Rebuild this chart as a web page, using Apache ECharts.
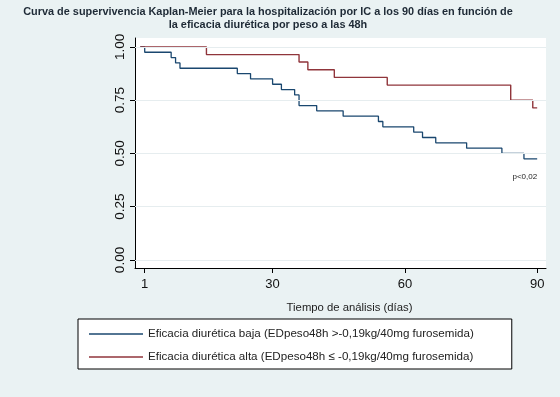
<!DOCTYPE html>
<html>
<head>
<meta charset="utf-8">
<script src="https://cdn.jsdelivr.net/npm/echarts@6/dist/echarts.min.js"></script>
<style>
  html, body { margin: 0; padding: 0; background: #eaf2f3; }
  #chart { width: 560px; height: 397px; }
</style>
</head>
<body>
<div id="chart"></div>
<script>
// Kaplan-Meier: días y supervivencia tras cada evento
const bajaDays = [0, 1, 7, 8, 9, 22, 25, 30, 32, 35, 36, 40, 46, 54, 55, 62, 64, 67, 74, 82, 87, 90];
const bajaSurv = [1, 0.975, 0.95, 0.925, 0.9, 0.875, 0.85, 0.825, 0.8, 0.775, 0.725, 0.7, 0.675, 0.65, 0.625, 0.6, 0.575, 0.55, 0.525, 0.5, 0.475, 0.475];
const altaDays = [0, 15, 36, 38, 44, 56, 84, 89, 90];
const altaSurv = [1, 0.964, 0.929, 0.893, 0.857, 0.821, 0.75, 0.714, 0.714];
const xTicks = [1, 30, 60, 90];
const yTicks = [0, 0.25, 0.5, 0.75, 1];
const seriesNames = [
  "Eficacia diurética baja (EDpeso48h >-0,19kg/40mg furosemida)",
  "Eficacia diurética alta (EDpeso48h ≤ -0,19kg/40mg furosemida)"
];

const FONT = "Liberation Sans, Arial, sans-serif";
const chart = echarts.init(document.getElementById("chart"), null, { renderer: "canvas" });

const zip = (xs, ys) => xs.map((x, i) => [x, ys[i]]);

const option = {
  backgroundColor: "#eaf2f3",
  animation: false,
  title: {
    text: "Curva de supervivencia Kaplan-Meier para la hospitalización por IC a los 90 días en función de\nla eficacia diurética por peso a las 48h",
    left: 263,
    top: 1,
    textAlign: "center",
    textStyle: { fontFamily: FONT, fontSize: 10.9, fontWeight: "bold", color: "#1e2a36", lineHeight: 12.5 }
  },
  grid: { left: 135, right: 14, top: 38, bottom: 129, show: true, backgroundColor: "#ffffff", borderWidth: 0 },
  legend: {
    orient: "vertical",
    left: 78,
    top: 319,
    padding: [9, 38, 6, 11],
    itemGap: 11,
    itemWidth: 54,
    itemHeight: 1.5,
    icon: "rect",
    backgroundColor: "#ffffff",
    borderColor: "#000000",
    borderWidth: 1,
    borderRadius: 0,
    textStyle: { fontFamily: FONT, fontSize: 11.6, color: "#222222" },
    data: seriesNames
  },
  xAxis: {
    type: "value",
    min: -1.2,
    max: 92,
    name: "Tiempo de análisis (días)",
    nameLocation: "middle",
    nameGap: 34,
    nameTextStyle: { fontFamily: FONT, fontSize: 11.3, color: "#222222", padding: [0, 0, 0, 18] },
    axisLine: { show: true, onZero: false, lineStyle: { color: "#000000", width: 1 } },
    axisTick: { show: true, length: 5, customValues: xTicks, lineStyle: { color: "#000000" } },
    axisLabel: { customValues: xTicks, fontFamily: FONT, fontSize: 13, color: "#111111", margin: 10 },
    splitLine: { show: false }
  },
  yAxis: {
    type: "value",
    min: -0.0376,
    max: 1.042,
    axisLine: { show: true, onZero: false, lineStyle: { color: "#000000", width: 1 } },
    axisTick: { show: true, length: 5, customValues: yTicks, lineStyle: { color: "#000000" } },
    axisLabel: {
      customValues: yTicks, rotate: 90, fontFamily: FONT, fontSize: 13.5, color: "#111111", margin: 8,
      formatter: v => v.toFixed(2)
    },
    splitLine: { show: false }
  },
  series: [
    {
      name: seriesNames[0],
      type: "line",
      step: "end",
      symbol: "none",
      data: zip(bajaDays, bajaSurv),
      lineStyle: { color: "#1a476f", width: 1.3 },
      itemStyle: { color: "#1a476f" },
      markLine: {
        silent: true,
        symbol: "none",
        label: { show: false },
        lineStyle: { color: "#e6edef", width: 1, type: "solid" },
        data: yTicks.map(v => ({ yAxis: v }))
      },
      z: 3
    },
    {
      name: seriesNames[1],
      type: "line",
      step: "end",
      symbol: "none",
      data: zip(altaDays, altaSurv),
      lineStyle: { color: "#90353b", width: 1.4 },
      itemStyle: { color: "#90353b" },
      markPoint: {
        symbol: "circle",
        symbolSize: 0,
        data: [{ coord: [90, 0.39] }],
        label: {
          show: true, position: "left", distance: 0, formatter: "p<0,02",
          fontFamily: FONT, fontSize: 8, color: "#222222"
        }
      },
      z: 3
    }
  ]
};

chart.setOption(option);
</script>
</body>
</html>
